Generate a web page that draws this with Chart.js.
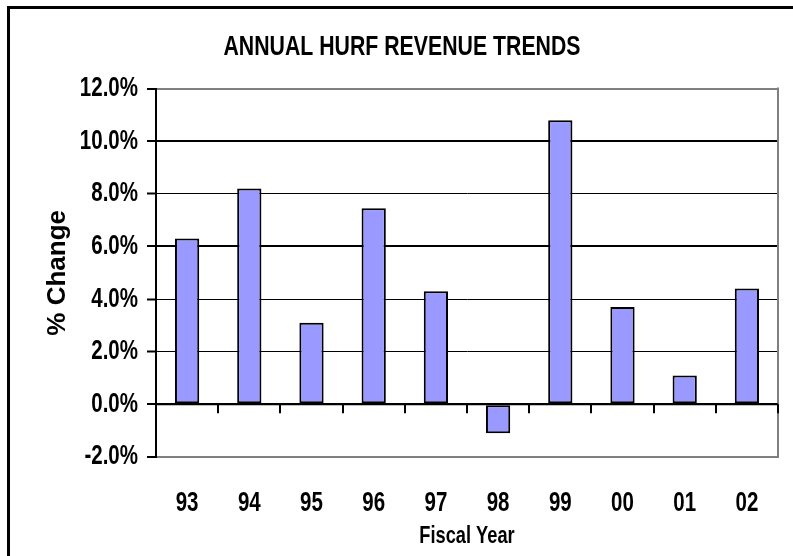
<!DOCTYPE html>
<html>
<head>
<meta charset="utf-8">
<title>Annual HURF Revenue Trends</title>
<script src="https://cdn.jsdelivr.net/npm/chart.js@4"></script>
<style>
    html, body { margin: 0; padding: 0; background: #fff; overflow: hidden; }
    .wrap { position: relative; width: 793px; height: 556px; }
    .frame {
        position: absolute; left: 7px; top: 6px; width: 900px; height: 700px;
        border: 3px solid #000; pointer-events: none;
    }
</style>
</head>
<body>
<div class="wrap">
    <canvas id="hurfChart" width="793" height="556"></canvas>
    <div class="frame"></div>
</div>
<script>
// Fiscal years and % change in HURF revenue
const years = ['93', '94', '95', '96', '97', '98', '99', '00', '01', '02'];
const pctChange = [6.3, 8.2, 3.1, 7.45, 4.3, -1.1, 10.8, 3.7, 1.1, 4.4];
const yTicks = [-2, 0, 2, 4, 6, 8, 10, 12];

const yTitle = '% Change';
const sans = "'Liberation Sans', Arial, sans-serif";

document.addEventListener('DOMContentLoaded', () => {
    const canvas = document.getElementById('hurfChart');

    // no narrow font installed: squeeze text horizontally to look like Arial Narrow
    const ctx = canvas.getContext('2d');
    const rawFill = ctx.fillText.bind(ctx);
    ctx.fillText = (text, x, y) => {
        const sx = text === yTitle ? 1 : 0.76;
        ctx.save();
        ctx.translate(x, y);
        ctx.scale(sx, 1);
        rawFill(text, 0, 0);
        ctx.restore();
    };

    // right edge of plot + category tick marks on the zero line
    const axisExtras = {
        id: 'axisExtras',
        beforeDatasetsDraw(chart) {
            const { ctx, chartArea } = chart;
            ctx.save();
            ctx.strokeStyle = '#808080';
            ctx.lineWidth = 2;
            ctx.beginPath();
            ctx.moveTo(chartArea.right, chartArea.top - 1);
            ctx.lineTo(chartArea.right, chartArea.bottom + 1);
            ctx.stroke();
            ctx.restore();
        },
        afterDatasetsDraw(chart) {
            const { ctx, chartArea, scales } = chart;
            const y0 = scales.y.getPixelForValue(0);
            const step = (chartArea.right - chartArea.left) / years.length;
            ctx.save();
            ctx.strokeStyle = '#000';
            ctx.lineWidth = 2;
            ctx.beginPath();
            ctx.moveTo(chartArea.left, y0);
            ctx.lineTo(chartArea.right, y0);
            for (let i = 1; i <= years.length; i++) {
                const x = Math.round(chartArea.left + i * step);
                ctx.moveTo(x, y0);
                ctx.lineTo(x, y0 + 9);
            }
            ctx.stroke();
            ctx.restore();
        }
    };

    new Chart(canvas, {
        type: 'bar',
        data: {
            labels: years,
            datasets: [{
                data: pctChange,
                backgroundColor: '#9999ff',
                borderColor: '#000',
                borderWidth: 2,
                borderSkipped: false,
                barPercentage: 0.39,
                categoryPercentage: 1
            }]
        },
        options: {
            responsive: false,
            animation: false,
            layout: { padding: { left: 26, right: 15, top: 0, bottom: 0 } },
            plugins: {
                legend: { display: false },
                tooltip: { enabled: false },
                title: {
                    display: true,
                    text: 'ANNUAL HURF REVENUE TRENDS',
                    color: '#000',
                    font: { family: sans, size: 28, weight: 'bold' },
                    padding: { top: 30, bottom: 25 }
                }
            },
            scales: {
                x: {
                    grid: { display: false, drawTicks: false },
                    border: { color: '#808080', width: 2 },
                    ticks: {
                        color: '#000',
                        padding: 30,
                        font: { family: sans, size: 27, weight: 'bold' }
                    },
                    title: {
                        display: true,
                        text: 'Fiscal Year',
                        color: '#000',
                        font: { family: sans, size: 24, weight: 'bold' },
                        padding: { top: 5, bottom: 5 }
                    },
                    afterFit: (scale) => { scale.height = 99; }
                },
                y: {
                    min: -2,
                    max: 12,
                    afterBuildTicks: (scale) => {
                        scale.ticks = yTicks.map(v => ({ value: v }));
                    },
                    grid: {
                        color: (c) => (c.tick && (c.tick.value === 12 || c.tick.value === -2)) ? '#808080' : '#000',
                        lineWidth: (c) => {
                            const v = c.tick ? c.tick.value : null;
                            if (v === 0 || v === 6 || v === 10 || v === 12 || v === -2) return 2;
                            return 1;
                        },
                        tickColor: '#000',
                        tickWidth: 2,
                        tickLength: 9
                    },
                    border: { color: '#000', width: 2 },
                    ticks: {
                        color: '#000',
                        padding: 9,
                        font: { family: sans, size: 27, weight: 'bold' },
                        callback: (v) => v.toFixed(1) + '%'
                    },
                    title: {
                        display: true,
                        text: yTitle,
                        color: '#000',
                        font: { family: sans, size: 26, weight: 'bold' },
                        padding: { top: 16, bottom: 0 }
                    },
                    afterFit: (scale) => { scale.width = 130; }
                }
            }
        },
        plugins: [axisExtras]
    });
});
</script>
</body>
</html>
